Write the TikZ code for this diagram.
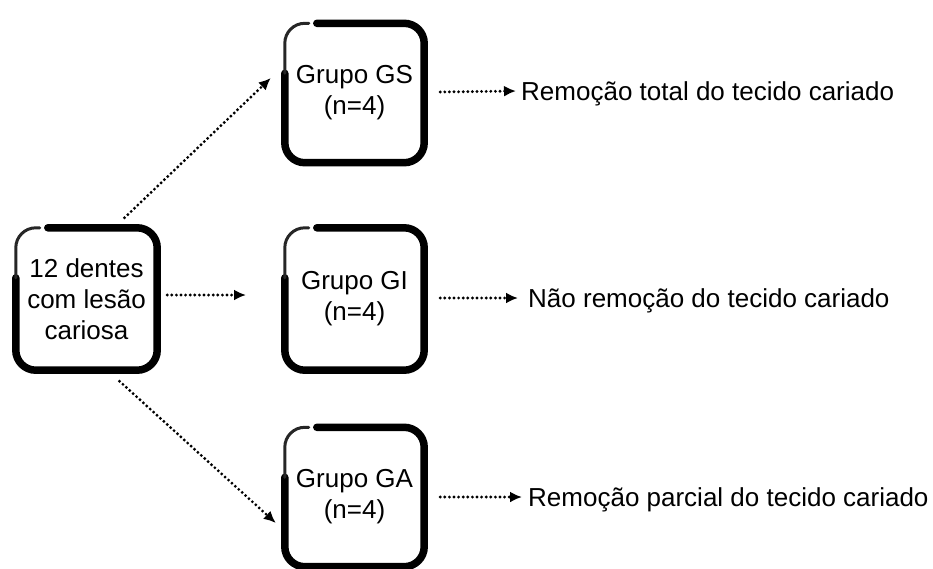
\documentclass[tikz,border=0pt]{standalone}
\usepackage{fontspec}
\setmainfont{Liberation Sans}
\usetikzlibrary{arrows.meta,calc}
\tikzset{
  boxnode/.style={draw=none, minimum width=139pt, minimum height=139pt, inner sep=0pt, align=center,
    font=\fontsize{26}{31}\selectfont},
  lbl/.style={anchor=base west, inner sep=0pt, font=\fontsize{26}{30}\selectfont},
  dotarrow/.style={line width=3.2pt, line cap=round, dash pattern=on 0pt off 4.6pt,
    -{Latex[length=12pt,width=11pt]}},
  brushthick/.style={line width=7.5pt, rounded corners=20pt, line cap=round},
  brushthin/.style={line width=3pt, rounded corners=20pt, black!85, line cap=round}
}
\newcommand\brushbox[1]{%
  \draw[brushthick] ([xshift=32pt]#1.north west) -- (#1.north east) -- (#1.south east) -- (#1.south west) -- ([yshift=-50pt]#1.north west);
  \draw[brushthin] ([yshift=-50pt]#1.north west) -- (#1.north west) -- ([xshift=24pt]#1.north west);
}
\begin{document}
\begin{tikzpicture}[x=1pt,y=-1pt]
\useasboundingbox (0,0) rectangle (933,568);
\node[boxnode, minimum width=141pt, minimum height=142pt] (L) at (86.5,299) {12 dentes\\com lesão\\cariosa};
\node[boxnode] (GS) at (354.5,93) {Grupo GS\\(n=4)};
\node[boxnode, minimum height=142pt] (GI) at (354.5,299) {Grupo GI\\(n=4)};
\node[boxnode] (GA) at (354.5,497) {Grupo GA\\(n=4)};
\brushbox{L}
\brushbox{GS}
\brushbox{GI}
\brushbox{GA}
\node[lbl] (R1) at (521,100) {Remoção total do tecido cariado};
\node[lbl] (R2) at (528,307) {Não remoção do tecido cariado};
\node[lbl] (R3) at (528,506) {Remoção parcial do tecido cariado};
\coordinate (midend) at (246,295);
\draw[dotarrow] ([xshift=38pt,yshift=10pt]L.north) -- ([xshift=-14pt,yshift=15pt]GS.west);
\draw[dotarrow] ([xshift=10pt,yshift=4pt]L.east) -- (midend);
\draw[dotarrow] ([xshift=33pt,yshift=-11pt]L.south) -- ([xshift=-9pt,yshift=-26pt]GA.west);
\draw[dotarrow] ([xshift=16pt,yshift=1pt]GS.east) -- ($(R1.base west)+(-5,-9)$);
\draw[dotarrow] ([xshift=16pt,yshift=1pt]GI.east) -- ($(R2.base west)+(-10,-9)$);
\draw[dotarrow] ([xshift=16pt]GA.east) -- ($(R3.base west)+(-6,-9)$);
\end{tikzpicture}
\end{document}
